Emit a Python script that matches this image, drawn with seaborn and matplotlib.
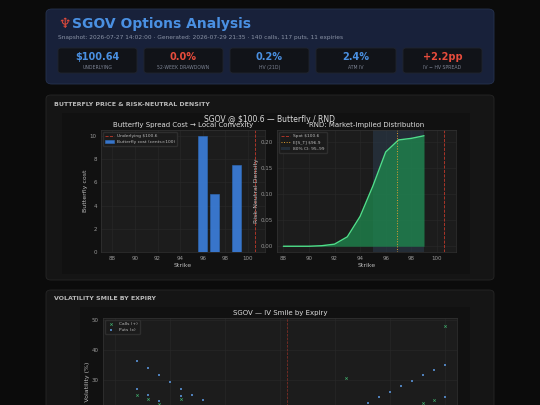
import matplotlib
matplotlib.use("Agg")
import matplotlib.pyplot as plt
import seaborn as sns
import pandas as pd
from matplotlib.patches import FancyBboxPatch

sns.set_theme(style="dark")
plt.rcParams['font.family'] = ['DejaVu Sans']

# ---- data ----
kpi_values = ["$100.64", "0.0%", "0.2%", "2.4%", "+2.2pp"]
kpi_labels = ["UNDERLYING", "52-WEEK DRAWDOWN", "HV (21D)", "ATM IV", "IV − HV SPREAD"]
kpi_colors = ["#4a90e2", "#e74c3c", "#4a90e2", "#4a90e2", "#e74c3c"]

fly_strikes = [96, 97, 99]
fly_cost = [10.0, 5.0, 7.5]

rnd_strikes = [88, 89, 90, 91, 92, 93, 94, 95, 96, 97, 98, 99]
rnd_density = [0.0, 0.0, 0.0, 0.001, 0.004, 0.018, 0.057, 0.115, 0.18, 0.203, 0.206, 0.211]

spot = 100.6
e_st = 96.9

put_strikes = [87, 88, 89, 90, 91, 92, 93, 87, 88, 89, 91, 108, 109, 110, 111, 112, 113, 114, 115, 115]
put_iv = [36.2, 33.8, 31.7, 29.3, 27.0, 25.0, 23.2, 27.0, 25.0, 23.0, 24.5, 22.4, 24.3, 26.0, 28.0, 29.6, 31.5, 33.2, 35.0, 24.4]
call_strikes = [87, 88, 89, 91, 106, 113, 114, 115]
call_iv = [25.0, 23.5, 22.0, 23.5, 30.7, 22.3, 23.3, 48.0]

W, H = 540, 405
fig = plt.figure(figsize=(5.4, 4.05), dpi=100)
fig.patch.set_facecolor("#0b0b0b")

def rect(x0, y0, x1, y1):
    return [x0 / W, 1 - y1 / H, (x1 - x0) / W, (y1 - y0) / H]

def box(x0, y0, x1, y1, fc, ec="none", r=4, z=-3):
    fig.patches.append(FancyBboxPatch((x0 / W, 1 - y1 / H), (x1 - x0) / W, (y1 - y0) / H,
                                      boxstyle=f"round,pad=0,rounding_size={r/W}",
                                      transform=fig.transFigure, fc=fc, ec=ec, lw=0.6, zorder=z))

def txt(x, y, s, **kw):
    fig.text(x / W, 1 - y / H, s, **kw)

# header
box(46, 9, 494, 84, "#18213a", "#26324f", 6)
txt(58, 24, "♆", color="#e74c3c", fontsize=10, va="center", fontweight="bold")
txt(72, 24, "SGOV Options Analysis", color="#4a90e2", fontsize=10, va="center", fontweight="bold")
txt(58, 37, "Snapshot: 2026-07-27 14:02:00 · Generated: 2026-07-29 21:35 · 140 calls, 117 puts, 11 expiries",
    color="#8a93a6", fontsize=4.2, va="center")
xs = [(58, 137), (144, 223), (230, 309), (316, 396), (403, 482)]
for (a, b), v, l, c in zip(xs, kpi_values, kpi_labels, kpi_colors):
    box(a, 48, b, 73, "#111318", "#20242e", 3, z=-2)
    txt((a + b) / 2, 57.5, v, color=c, fontsize=7, fontweight="bold", ha="center", va="center")
    txt((a + b) / 2, 67.5, l, color="#7d8494", fontsize=3.3, ha="center", va="center")

# panel 2
box(46, 95, 494, 280, "#151515", "#262626", 5)
txt(54, 105, "BUTTERFLY PRICE & RISK-NEUTRAL DENSITY", color="#bbbbbb", fontsize=4.5, fontweight="bold", va="center")
box(62, 113, 470, 274, "#111111", "none", 0, z=-2)
txt(270, 120, "SGOV @ $100.6 — Butterfly / RND", color="#dddddd", fontsize=5.5, ha="center", va="center")

def style(ax):
    ax.set_facecolor("#1c1c1c")
    for s in ax.spines.values():
        s.set_color("#333333"); s.set_linewidth(0.5)
    ax.tick_params(colors="#999999", labelsize=4, length=1.5, pad=1.5)
    ax.grid(True, color="#2a2a2a", lw=0.4)

ax1 = fig.add_axes(rect(101, 130, 265, 252))
style(ax1)
sns.barplot(x=fly_strikes, y=fly_cost, native_scale=True, color="#3a7bd5", width=0.8, ax=ax1,
            label="Butterfly cost (cents×100)", saturation=1, edgecolor="#2f6fc0", linewidth=0.4, alpha=0.95)
ax1.axvline(spot, color="#c0392b", ls="--", lw=0.6, label="Underlying $100.6")
ax1.set_xlim(87, 101.5); ax1.set_ylim(0, 10.5)
ax1.set_xticks(range(88, 101, 2))
ax1.set_title("Butterfly Spread Cost → Local Convexity", color="#dddddd", fontsize=5, pad=2)
ax1.set_xlabel("Strike", color="#bbbbbb", fontsize=4.5, labelpad=1)
ax1.set_ylabel("Butterfly cost", color="#bbbbbb", fontsize=4.5, labelpad=1)
ax1.legend(loc="upper left", fontsize=3.2, facecolor="#1b1b1b", edgecolor="#333333", labelcolor="#bbbbbb")

ax2 = fig.add_axes(rect(277, 130, 456, 252))
style(ax2)
ax2.axvspan(95, 99, color="#2a3a4a", alpha=0.6, lw=0, label="80% CI: 95–99")
ax2.fill_between(rnd_strikes, rnd_density, color="#1e8a4f", alpha=0.75, lw=0)
sns.lineplot(x=rnd_strikes, y=rnd_density, color="#4ee08a", lw=1, ax=ax2)
ax2.axvline(spot, color="#c0392b", ls="--", lw=0.6, label="Spot $100.6")
ax2.axvline(e_st, color="#e0a030", ls=":", lw=0.7, label="E[S_T] $96.9")
ax2.set_xlim(87.5, 101.5); ax2.set_ylim(-0.011, 0.222)
ax2.set_xticks(range(88, 101, 2))
ax2.set_title("RND: Market-Implied Distribution", color="#dddddd", fontsize=5, pad=2)
ax2.set_xlabel("Strike", color="#bbbbbb", fontsize=4.5, labelpad=1)
ax2.set_ylabel("Risk-Neutral Density", color="#bbbbbb", fontsize=4.5, labelpad=1)
h, l = ax2.get_legend_handles_labels()
ax2.legend([h[1], h[2], h[0]], [l[1], l[2], l[0]], loc="upper left", fontsize=3.2,
           facecolor="#1b1b1b", edgecolor="#333333", labelcolor="#bbbbbb")

# panel 3
box(46, 290, 494, 420, "#151515", "#262626", 5)
txt(54, 298, "VOLATILITY SMILE BY EXPIRY", color="#bbbbbb", fontsize=4.5, fontweight="bold", va="center")
box(80, 307, 470, 420, "#111111", "none", 0, z=-2)
ax3 = fig.add_axes(rect(103, 318, 457, 470))
style(ax3)
sns.scatterplot(x=call_strikes, y=call_iv, color="#3fa86a", marker="x", s=3, lw=0.5, ax=ax3, label="Calls (+)")
sns.scatterplot(x=put_strikes, y=put_iv, color="#4f7fb8", marker="s", s=2.5, lw=0, ax=ax3, label="Puts (x)")
ax3.axvline(spot, color="#c0392b", ls="--", lw=0.5, alpha=0.7)
ax3.set_xlim(83.9, 116.1); ax3.set_ylim(0, 50.5)
ax3.set_yticks([0, 10, 20, 30, 40, 50])
ax3.tick_params(axis="x", labelbottom=False)
ax3.set_title("SGOV — IV Smile by Expiry", color="#dddddd", fontsize=5, pad=2)
ax3.set_ylabel("Implied Volatility (%)", color="#bbbbbb", fontsize=4.5, labelpad=1)
ax3.legend(loc="upper left", fontsize=3.2, facecolor="#1b1b1b", edgecolor="#333333", labelcolor="#bbbbbb")

fig.savefig("out.png", dpi=100, facecolor=fig.get_facecolor())
